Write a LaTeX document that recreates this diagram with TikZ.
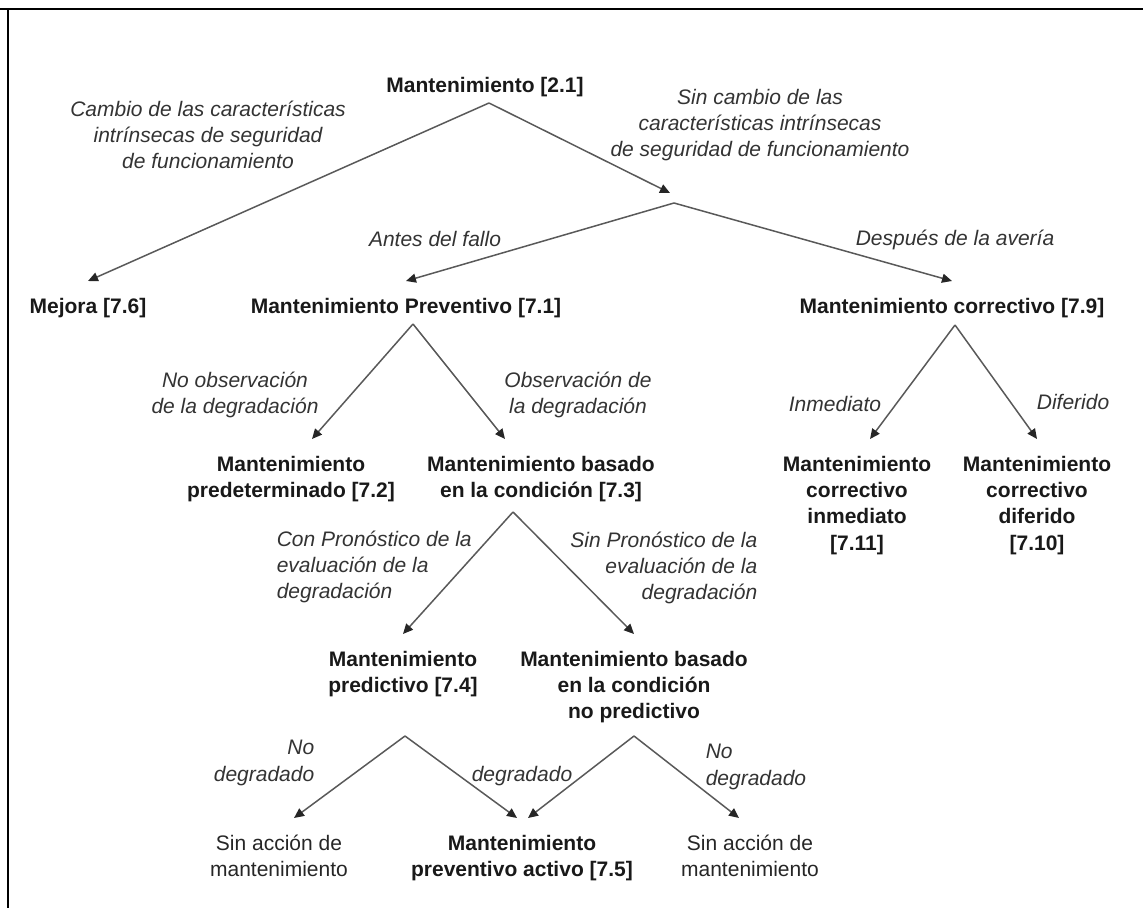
\documentclass[tikz,border=0pt]{standalone}
\usepackage{fontspec}
\setmainfont{Liberation Sans}
\usetikzlibrary{positioning}
\usetikzlibrary{calc}
\usetikzlibrary{arrows.meta}

\begin{document}
\begin{tikzpicture}[x=0.5pt,y=-0.5pt,line width=0.75pt,
  maint/.style={anchor=north,inner xsep=0pt,inner ysep=8.25pt,align=center,font=\fontsize{10.5}{13.1}\selectfont\bfseries,text=black!90},
  leafnode/.style={anchor=north,inner xsep=0pt,inner ysep=8.25pt,align=center,font=\fontsize{10.5}{13.1}\selectfont,text=black!85},
  lbl/.style={inner sep=0pt,font=\fontsize{10.5}{13.1}\selectfont\itshape,text=black!80},
  arr/.style={draw=black!65,-{Triangle[length=5pt,width=4.5pt,color=black!85]}}]
  \useasboundingbox (0,0) rectangle (1143,908);
  \draw[line width=1.35pt] (0,9)--(1143,9);
  \draw[line width=1.35pt] (8,9)--(8,908);

  \node[maint](root) at (485,60) {Mantenimiento [2.1]};
  \node[maint](mejora) at (88,281) {Mejora [7.6]};
  \node[maint](prev) at (406,281) {Mantenimiento Preventivo [7.1]};
  \node[maint](corr) at (952,281) {Mantenimiento correctivo [7.9]};
  \node[maint](predet) at (291,439) {Mantenimiento\\predeterminado [7.2]};
  \node[maint](cond) at (541,439) {Mantenimiento basado\\en la condición [7.3]};
  \node[maint](inmed) at (857,439) {Mantenimiento\\correctivo\\inmediato\\{}[7.11]};
  \node[maint](difer) at (1037,439) {Mantenimiento\\correctivo\\diferido\\{}[7.10]};
  \node[maint](predic) at (403,634) {Mantenimiento\\predictivo [7.4]};
  \node[maint](nopred) at (634,634) {Mantenimiento basado\\en la condición\\no predictivo};
  \node[leafnode](sinL) at (279,818) {Sin acción de\\mantenimiento};
  \node[maint](activo) at (522,818) {Mantenimiento\\preventivo activo [7.5]};
  \node[leafnode](sinR) at (750,818) {Sin acción de\\mantenimiento};

  \coordinate (a0) at (489,103);
  \coordinate (t1) at (670,193);
  \coordinate (a1) at (674,203);
  \coordinate (aprev) at (413,324);
  \coordinate (acorr) at (955,325);
  \coordinate (acond) at (513,512);
  \coordinate (apredic) at (405,736);
  \coordinate (anopred) at (634,736);

  \node[lbl,align=center](lcambio) at (208,135) {Cambio de las características\\intrínsecas de seguridad\\de funcionamiento};
  \node[lbl,align=center](lsincambio) at (760,125) {Sin cambio de las\\características intrínsecas\\de seguridad de funcionamiento};
  \node[lbl](lantes) at (435,239) {Antes del fallo};
  \node[lbl](ldespues) at (955,240) {Después de la avería};
  \node[lbl,align=center](lnoobs) at (235,395) {No observación\\de la degradación};
  \node[lbl,align=center](lobs) at (578,395) {Observación de\\la degradación};
  \node[lbl](linmed) at (835,404) {Inmediato};
  \node[lbl](ldifer) at (1073,402) {Diferido};
  \node[lbl,align=left,anchor=west](lconpron) at (276,567) {Con Pronóstico de la\\evaluación de la\\degradación};
  \node[lbl,align=right,anchor=east](lsinpron) at (758,568) {Sin Pronóstico de la\\evaluación de la\\degradación};
  \node[lbl,align=right,anchor=east](lnodegL) at (315,763) {No\\degradado};
  \node[lbl](ldeg) at (522,776) {degradado};
  \node[lbl,align=left,anchor=west](lnodegR) at (705,767) {No\\degradado};

  \draw[arr] (a0)--(mejora.north);
  \draw[arr] (a0)--(t1);
  \draw[arr] (a1)--(prev.north);
  \draw[arr] (a1)--(corr.north);
  \draw[arr] (aprev)--($(predet.north)+(21,0)$);
  \draw[arr] (aprev)--($(cond.north)+(-36,0)$);
  \draw[arr] (acorr)--($(inmed.north)+(13,0)$);
  \draw[arr] (acorr)--(difer.north);
  \draw[arr] (acond)--(predic.north);
  \draw[arr] (acond)--(nopred.north);
  \draw[arr] (apredic)--($(sinL.north)+(15,0)$);
  \draw[arr] (apredic)--($(activo.north)+(-5,0)$);
  \draw[arr] (anopred)--($(activo.north)+(6,0)$);
  \draw[arr] (anopred)--($(sinR.north)+(-11,0)$);
\end{tikzpicture}
\end{document}
